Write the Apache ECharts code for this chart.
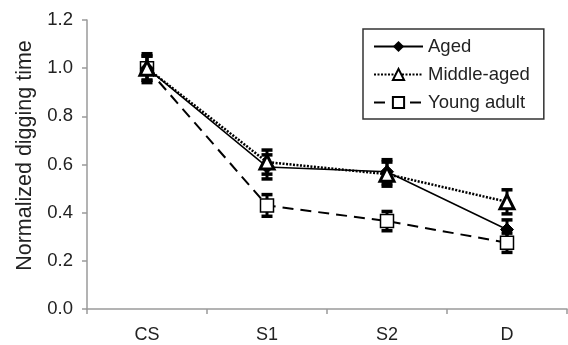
<!DOCTYPE html>
<html>
<head>
<meta charset="utf-8">
<script src="https://cdn.jsdelivr.net/npm/echarts@6/dist/echarts.min.js"></script>
<style>html,body{margin:0;padding:0;background:#fff}#c{width:568px;height:345px}</style>
</head>
<body>
<div id="c"></div>
<script>
const categories = ['CS', 'S1', 'S2', 'D'];
const agedValues = [1.0, 0.59, 0.57, 0.33];
const agedErrors = [0.06, 0.05, 0.05, 0.04];
const middleValues = [1.0, 0.61, 0.56, 0.445];
const middleErrors = [0.05, 0.05, 0.05, 0.05];
const youngValues = [1.0, 0.43, 0.365, 0.275];
const youngErrors = [0.05, 0.045, 0.04, 0.04];
const yTicks = [0, 0.2, 0.4, 0.6, 0.8, 1.0, 1.2];

const FONT = 'Liberation Sans, Arial, sans-serif';

function errData(vals, errs) {
  return vals.map((v, i) => [i, v - errs[i], v + errs[i]]);
}
function errSeries(name, vals, errs) {
  return {
    type: 'custom',
    name: name + ' err',
    z: 1,
    silent: true,
    renderItem: function (params, api) {
      const x = api.value(0);
      const lo = api.coord([x, api.value(1)]);
      const hi = api.coord([x, api.value(2)]);
      const w = 5.5;
      return {
        type: 'group',
        children: [
          { type: 'line', shape: { x1: lo[0], y1: lo[1], x2: hi[0], y2: hi[1] }, style: { stroke: '#000', lineWidth: 3 } },
          { type: 'line', shape: { x1: lo[0] - w, y1: lo[1], x2: lo[0] + w, y2: lo[1] }, style: { stroke: '#000', lineWidth: 3.5 } },
          { type: 'line', shape: { x1: hi[0] - w, y1: hi[1], x2: hi[0] + w, y2: hi[1] }, style: { stroke: '#000', lineWidth: 3.5 } }
        ]
      };
    },
    data: errData(vals, errs)
  };
}

const chart = echarts.init(document.getElementById('c'), null, { renderer: 'canvas' });
chart.setOption({
  animation: false,
  textStyle: { fontFamily: FONT },
  grid: { left: 87, right: 1, top: 20, bottom: 36, containLabel: false },
  legend: {
    orient: 'vertical',
    left: 363,
    top: 29,
    width: 179,
    padding: [8, 14, 7, 10],
    itemGap: 9,
    itemWidth: 49,
    itemHeight: 14,
    borderColor: '#333',
    borderWidth: 1.5,
    textStyle: { fontFamily: FONT, fontSize: 18.5, color: '#222' },
    data: ['Aged', 'Middle-aged', 'Young adult']
  },
  xAxis: {
    type: 'category',
    data: categories,
    boundaryGap: true,
    axisLine: { lineStyle: { color: '#9a9a9a', width: 1.5 } },
    axisTick: { show: true, length: 5, inside: false, lineStyle: { color: '#9a9a9a', width: 1.5 } },
    axisLabel: { margin: 17, fontSize: 18, color: '#222', fontFamily: FONT },
    splitLine: { show: false }
  },
  yAxis: {
    type: 'value',
    min: 0,
    max: 1.2,
    interval: 0.2,
    name: 'Normalized digging time',
    nameLocation: 'middle',
    nameGap: 51,
    nameTextStyle: { fontSize: 21.5, color: '#222', fontFamily: FONT, padding: [0, 0, 0, 18] },
    axisLine: { show: true, lineStyle: { color: '#9a9a9a', width: 1.5 } },
    axisTick: { show: true, length: 5, inside: false, lineStyle: { color: '#9a9a9a', width: 1.5 } },
    axisLabel: {
      margin: 14, fontSize: 18.5, color: '#222', fontFamily: FONT,
      formatter: function (v) {
        const t = yTicks.find(k => Math.abs(k - v) < 1e-9);
        return (t !== undefined ? t : v).toFixed(1);
      }
    },
    splitLine: { show: false }
  },
  series: [
    errSeries('Aged', agedValues, agedErrors),
    errSeries('Middle-aged', middleValues, middleErrors),
    errSeries('Young adult', youngValues, youngErrors),
    {
      name: 'Aged', type: 'line', z: 3, data: agedValues,
      symbol: 'diamond', symbolSize: 13,
      itemStyle: { color: '#000', borderColor: '#000' },
      lineStyle: { color: '#000', width: 1.5, type: 'solid' }
    },
    {
      name: 'Middle-aged', type: 'line', z: 4, data: middleValues,
      symbol: 'triangle', symbolSize: 14,
      itemStyle: { color: '#fff', borderColor: '#000', borderWidth: 3 },
      lineStyle: { color: '#000', width: 2.5, type: [2, 1.5] }
    },
    {
      name: 'Young adult', type: 'line', z: 2, data: youngValues,
      symbol: 'rect', symbolSize: 13,
      itemStyle: { color: '#fff', borderColor: '#000', borderWidth: 1.5 },
      lineStyle: { color: '#000', width: 2, type: [11, 7] }
    }
  ]
});
</script>
</body>
</html>
